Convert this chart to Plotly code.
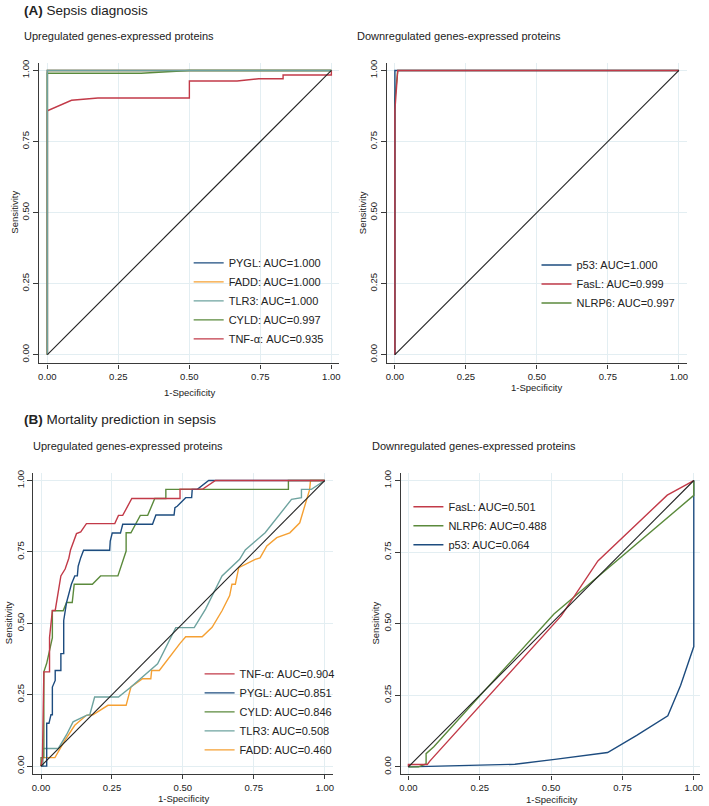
import plotly.graph_objects as go

W, H = 709, 806
FONT = "Liberation Sans, Arial, Helvetica, sans-serif"

# ---------------- DATA ----------------
tick_vals = [0, 0.25, 0.5, 0.75, 1.0]
tick_text = ["0.00", "0.25", "0.50", "0.75", "1.00"]

# (A) Sepsis diagnosis - upregulated
a_up_pygl_x = [0, 0, 1]
a_up_pygl_y = [0, 1, 1]
a_up_fadd_x = [0, 0, 1]
a_up_fadd_y = [0, 1, 1]
a_up_tlr3_x = [0, 0, 1]
a_up_tlr3_y = [0, 1, 1]
a_up_cyld_x = [0, 0, 0.33, 0.5, 1]
a_up_cyld_y = [0, 0.99, 0.99, 1, 1]
a_up_tnf_x = [0, 0, 0.085, 0.178, 0.5, 0.5, 0.668, 0.744, 0.83, 0.83, 1, 1]
a_up_tnf_y = [0, 0.858, 0.895, 0.903, 0.903, 0.963, 0.963, 0.971, 0.971, 0.984, 0.984, 1]

# (A) Sepsis diagnosis - downregulated
a_dn_p53_x = [0, 0, 1]
a_dn_p53_y = [0, 1, 1]
a_dn_fasl_x = [0, 0, 0.01, 1]
a_dn_fasl_y = [0, 0.86, 1, 1]
a_dn_nlrp6_x = [0, 0, 0.01, 1]
a_dn_nlrp6_y = [0, 0.9, 1, 1]

# (B) Mortality prediction - upregulated
b_up_tnf_x = [0, 0.005, 0.01, 0.03, 0.03, 0.04, 0.05, 0.07, 0.085, 0.098, 0.104, 0.113,
              0.125, 0.14, 0.16, 0.26, 0.273, 0.288, 0.32, 0.49, 0.49, 0.57, 0.615, 1.0]
b_up_tnf_y = [0, 0.03, 0.33, 0.33, 0.45, 0.545, 0.545, 0.666, 0.69, 0.728, 0.757, 0.782,
              0.814, 0.82, 0.849, 0.849, 0.878, 0.878, 0.937, 0.937, 0.97, 0.97, 1.0, 1.0]
b_up_pygl_x = [0, 0.02, 0.02, 0.028, 0.035, 0.04, 0.04, 0.05, 0.05, 0.07, 0.07, 0.08, 0.08,
               0.09, 0.107, 0.119, 0.128, 0.131, 0.14, 0.15, 0.242, 0.244, 0.251, 0.28,
               0.288, 0.393, 0.405, 0.469, 0.472, 0.48, 0.51, 0.531, 0.533, 0.551, 0.591, 1.0]
b_up_pygl_y = [0, 0, 0.15, 0.15, 0.18, 0.18, 0.277, 0.30, 0.335, 0.335, 0.394, 0.394, 0.51,
               0.573, 0.637, 0.666, 0.666, 0.70, 0.73, 0.756, 0.756, 0.788, 0.816, 0.816,
               0.847, 0.847, 0.879, 0.879, 0.905, 0.91, 0.94, 0.94, 0.969, 0.969, 1.0, 1.0]
b_up_cyld_x = [0, 0, 0.01, 0.01, 0.02, 0.028, 0.04, 0.04, 0.078, 0.09, 0.11, 0.117, 0.181,
               0.21, 0.271, 0.30, 0.30, 0.317, 0.35, 0.376, 0.401, 0.44, 0.44, 0.872, 0.872, 1.0]
b_up_cyld_y = [0, 0.03, 0.03, 0.33, 0.36, 0.40, 0.45, 0.544, 0.544, 0.573, 0.573, 0.637,
               0.637, 0.666, 0.666, 0.753, 0.817, 0.817, 0.878, 0.878, 0.937, 0.937, 0.969,
               0.969, 1.0, 1.0]
b_up_tlr3_x = [0, 0.007, 0.007, 0.061, 0.09, 0.113, 0.16, 0.172, 0.189, 0.273, 0.317, 0.411,
               0.475, 0.54, 0.58, 0.638, 0.70, 0.72, 0.79, 0.883, 0.918, 0.918, 0.953, 1.0]
b_up_tlr3_y = [0, 0, 0.062, 0.062, 0.11, 0.155, 0.178, 0.18, 0.242, 0.242, 0.277, 0.358,
               0.485, 0.485, 0.55, 0.666, 0.724, 0.757, 0.817, 0.934, 0.94, 0.969, 0.969, 1.0]
b_up_fadd_x = [0, 0.007, 0.049, 0.084, 0.119, 0.16, 0.183, 0.236, 0.30, 0.317, 0.358, 0.387,
               0.39, 0.417, 0.49, 0.51, 0.568, 0.603, 0.638, 0.665, 0.673, 0.685, 0.697,
               0.755, 0.772, 0.796, 0.831, 0.877, 0.912, 0.936, 0.947, 0.95, 1.0]
b_up_fadd_y = [0, 0.03, 0.03, 0.09, 0.143, 0.178, 0.18, 0.213, 0.213, 0.277, 0.306, 0.306,
               0.335, 0.335, 0.43, 0.453, 0.453, 0.486, 0.544, 0.597, 0.637, 0.637, 0.695,
               0.724, 0.729, 0.771, 0.80, 0.817, 0.852, 0.928, 0.969, 1.0, 1.0]

# (B) Mortality prediction - downregulated
b_dn_fasl_x = [0, 0, 0.066, 0.075, 0.536, 0.664, 0.907, 1.0]
b_dn_fasl_y = [0, 0.008, 0.008, 0.02, 0.528, 0.719, 0.949, 1.0]
b_dn_nlrp6_x = [0, 0.035, 0.062, 0.062, 0.089, 0.51, 1.0, 1.0]
b_dn_nlrp6_y = [0, 0, 0.01, 0.046, 0.07, 0.534, 0.948, 1.0]
b_dn_p53_x = [0, 0.2, 0.373, 0.513, 0.698, 0.80, 0.909, 0.954, 1.0, 1.0]
b_dn_p53_y = [0, 0.004, 0.009, 0.026, 0.05, 0.11, 0.178, 0.285, 0.42, 1.0]

diag_x = [0, 1]
diag_y = [0, 1]

# ---------------- STYLE ----------------
RED = "#c23a48"
NAVY = "#1d4c7f"
GREEN = "#5b8a3c"
TEAL = "#6ea39f"
ORANGE = "#f5a033"
LW = 1.4

# panel geometry in px: (x0px, x1px, left, right, y0px, y1px, bottom, top)
panels = {
    1: (45.7, 331.7, 37.7, 339.5, 353.0, 67.7, 361.7, 60.0),
    2: (395.7, 681.7, 387.7, 689.5, 353.0, 67.7, 361.7, 60.0),
    3: (39.3, 325.0, 31.7, 333.0, 766.0, 479.3, 774.0, 472.0),
    4: (409.3, 696.7, 401.7, 703.0, 766.7, 479.3, 774.3, 472.0),
}

fig = go.Figure()


def add(xs, ys, name, color, panel, rank, show=True, width=LW):
    sfx = "" if panel == 1 else str(panel)
    fig.add_trace(go.Scatter(
        x=xs, y=ys, name=name, mode="lines",
        line=dict(color=color, width=width),
        xaxis="x" + sfx, yaxis="y" + sfx,
        legend="legend" + sfx, legendrank=rank, showlegend=show,
        hoverinfo="skip"))


# Panel 1
add(a_up_pygl_x, a_up_pygl_y, "PYGL: AUC=1.000", NAVY, 1, 1)
add(a_up_fadd_x, a_up_fadd_y, "FADD: AUC=1.000", ORANGE, 1, 2)
add(a_up_tnf_x, a_up_tnf_y, "TNF-α: AUC=0.935", RED, 1, 5)
add(a_up_cyld_x, a_up_cyld_y, "CYLD: AUC=0.997", GREEN, 1, 4)
add(a_up_tlr3_x, a_up_tlr3_y, "TLR3: AUC=1.000", TEAL, 1, 3)
add(diag_x, diag_y, "ref", "#222222", 1, 99, show=False, width=1.1)

# Panel 2
add(a_dn_nlrp6_x, a_dn_nlrp6_y, "NLRP6: AUC=0.997", GREEN, 2, 3)
add(a_dn_p53_x, a_dn_p53_y, "p53: AUC=1.000", NAVY, 2, 1)
add(a_dn_fasl_x, a_dn_fasl_y, "FasL: AUC=0.999", RED, 2, 2)
add(diag_x, diag_y, "ref", "#222222", 2, 99, show=False, width=1.1)

# Panel 3
add(b_up_fadd_x, b_up_fadd_y, "FADD: AUC=0.460", ORANGE, 3, 5)
add(b_up_tlr3_x, b_up_tlr3_y, "TLR3: AUC=0.508", TEAL, 3, 4)
add(b_up_cyld_x, b_up_cyld_y, "CYLD: AUC=0.846", GREEN, 3, 3)
add(b_up_pygl_x, b_up_pygl_y, "PYGL: AUC=0.851", NAVY, 3, 2)
add(b_up_tnf_x, b_up_tnf_y, "TNF-α: AUC=0.904", RED, 3, 1)
add(diag_x, diag_y, "ref", "#222222", 3, 99, show=False, width=1.1)

# Panel 4
add(b_dn_p53_x, b_dn_p53_y, "p53: AUC=0.064", NAVY, 4, 3)
add(b_dn_nlrp6_x, b_dn_nlrp6_y, "NLRP6: AUC=0.488", GREEN, 4, 2)
add(b_dn_fasl_x, b_dn_fasl_y, "FasL: AUC=0.501", RED, 4, 1)
add(diag_x, diag_y, "ref", "#222222", 4, 99, show=False, width=1.1)

GRID = "#e3eef2"
AXC = "#3a3a3a"
layout = dict(
    width=W, height=H, autosize=False,
    margin=dict(l=0, r=0, t=0, b=0),
    paper_bgcolor="white", plot_bgcolor="white",
    font=dict(family=FONT, size=10, color="#222222"),
    showlegend=True,
)

for p, (x0p, x1p, lft, rgt, y0p, y1p, bot, top) in panels.items():
    sfx = "" if p == 1 else str(p)
    xs = x1p - x0p
    ys = y0p - y1p
    layout["xaxis" + sfx] = dict(
        domain=[lft / W, rgt / W],
        range=[(lft - x0p) / xs, (rgt - x0p) / xs],
        tickvals=tick_vals, ticktext=tick_text,
        showgrid=True, gridcolor=GRID, gridwidth=1, zeroline=False,
        showline=True, linecolor=AXC, linewidth=1.3,
        ticks="outside", ticklen=4, tickwidth=1, tickcolor=AXC,
        tickfont=dict(size=9.5, color="#222222"),
        anchor="y" + sfx, fixedrange=True,
    )
    layout["yaxis" + sfx] = dict(
        domain=[1 - bot / H, 1 - top / H],
        range=[(y0p - bot) / ys, (y0p - top) / ys],
        tickvals=tick_vals, ticktext=tick_text, tickangle=-90,
        showgrid=True, gridcolor=GRID, gridwidth=1, zeroline=False,
        showline=True, linecolor=AXC, linewidth=1.3,
        ticks="outside", ticklen=5, tickwidth=1, tickcolor=AXC,
        tickfont=dict(size=9.5, color="#222222"),
        anchor="x" + sfx, fixedrange=True,
    )

# legends: (left px, center-y px)
legpos = {1: (188.0, 299.0), 2: (538.3, 282.0), 3: (199.0, 711.5), 4: (409.3, 524.7)}
for p, (lx, ly) in legpos.items():
    sfx = "" if p == 1 else str(p)
    layout["legend" + sfx] = dict(
        x=lx / W, y=1 - ly / H, xanchor="left", yanchor="middle",
        bgcolor="rgba(0,0,0,0)", borderwidth=0,
        font=dict(family=FONT, size=11, color="#222222"),
        traceorder="normal", itemwidth=30, tracegroupgap=0,
    )

fig.update_layout(**layout)


def txt(px, py, s, size, anchor="left", angle=0):
    fig.add_annotation(x=px / W, y=1 - py / H, xref="paper", yref="paper",
                       text=s, showarrow=False, xanchor=anchor, yanchor="middle",
                       textangle=angle, borderpad=0,
                       font=dict(family=FONT, size=size, color="#222222"))


txt(20.7, 8.0, "<b>(A)</b> Sepsis diagnosis", 13.5)
txt(20.7, 33.3, "Upregulated genes-expressed proteins", 11)
txt(357.0, 33.3, "Downregulated genes-expressed proteins", 11)
txt(20.7, 418.5, "<b>(B)</b> Mortality prediction in sepsis", 13.5)
txt(30.7, 445.0, "Upregulated genes-expressed proteins", 11)
txt(371.7, 445.0, "Downregulated genes-expressed proteins", 11)

# axis titles
txt(188.8, 391.0, "1-Specificity", 9.5, "center")
txt(538.0, 385.5, "1-Specificity", 9.5, "center")
txt(182.7, 798.5, "1-Specificity", 9.5, "center")
txt(553.0, 799.0, "1-Specificity", 9.5, "center")
txt(12.5, 210.0, "Sensitivity", 9.5, "center", -90)
txt(362.5, 210.0, "Sensitivity", 9.5, "center", -90)
txt(6.5, 622.0, "Sensitivity", 9.5, "center", -90)
txt(376.5, 622.0, "Sensitivity", 9.5, "center", -90)

fig.write_html("out.html")
